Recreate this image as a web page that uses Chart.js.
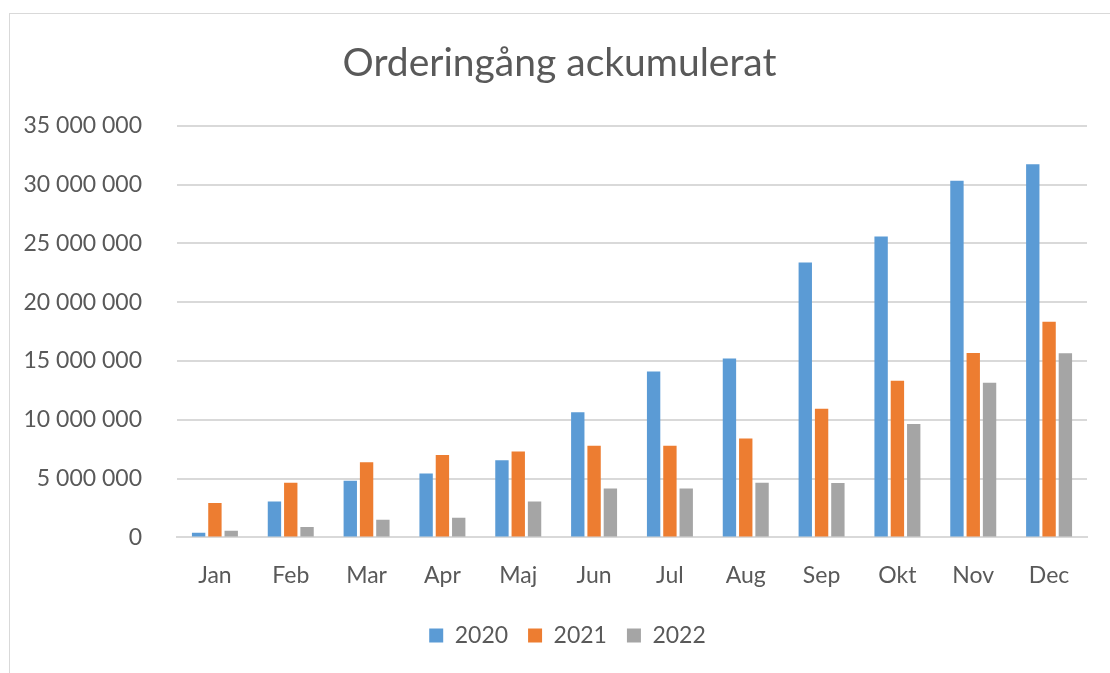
<!DOCTYPE html>
<html>
<head>
<meta charset="utf-8">
<script src="https://cdn.jsdelivr.net/npm/chart.js@4"></script>
<style>
  body { margin: 0; background: #fff; }
  #wrap { width: 1110px; height: 673px; }
</style>
</head>
<body>
<div id="wrap"><canvas id="myBarChart" width="1110" height="673"></canvas></div>
<script>
var months = ["Jan", "Feb", "Mar", "Apr", "Maj", "Jun", "Jul", "Aug", "Sep", "Okt", "Nov", "Dec"];
var years = ["2020", "2021", "2022"];
var values2020 = [400000, 3060000, 4820000, 5440000, 6550000, 10640000, 14100000, 15220000, 23380000, 25590000, 30330000, 31740000];
var values2021 = [2920000, 4650000, 6380000, 7000000, 7310000, 7800000, 7800000, 8420000, 10930000, 13310000, 15690000, 18330000];
var values2022 = [570000, 880000, 1500000, 1670000, 3060000, 4150000, 4150000, 4640000, 4630000, 9650000, 13140000, 15660000];
var yTicks = [0, 5000000, 10000000, 15000000, 20000000, 25000000, 30000000, 35000000];

var textColor = "#595959";
var fontFamily = "Lato, 'Open Sans', sans-serif";

// frame around the chart, like the Excel chart area border
var framePlugin = {
  id: "frame",
  beforeDraw: function (chart) {
    var c = chart.ctx;
    c.save();
    c.strokeStyle = "#d9d9d9";
    c.lineWidth = 1;
    c.strokeRect(9.5, 13.5, 1200, 700);
    c.restore();
  },
};

// Excel centres title and legend over the plot area rather than the whole canvas
var centerPlugin = {
  id: "centerBlocks",
  afterLayout: function (chart) {
    if (chart.titleBlock) {
      chart.titleBlock.left += 6;
      chart.titleBlock.right += 6;
    }
    if (chart.legend) {
      chart.legend.left += 14;
      chart.legend.right += 14;
    }
  },
};

var ctx = document.getElementById("myBarChart").getContext("2d");
var myBarChart = new Chart(ctx, {
  type: "bar",
  data: {
    labels: months,
    datasets: [
      { label: years[0], data: values2020, backgroundColor: "#5B9BD5" },
      { label: years[1], data: values2021, backgroundColor: "#ED7D31" },
      { label: years[2], data: values2022, backgroundColor: "#A5A5A5" },
    ],
  },
  options: {
    responsive: false,
    animation: false,
    layout: { padding: { left: 20, right: 23, top: 20, bottom: 16 } },
    datasets: {
      bar: { categoryPercentage: 0.645, barPercentage: 0.82 },
    },
    scales: {
      x: {
        grid: { display: false, drawTicks: false },
        border: { color: "#d9d9d9", width: 2 },
        ticks: { color: textColor, font: { family: fontFamily, size: 23 }, padding: 24 },
        afterFit: function (scale) {
          scale.height = scale.height - 9;
        },
      },
      y: {
        min: 0,
        max: 35000000,
        afterBuildTicks: function (scale) {
          scale.ticks = yTicks.map(function (v) { return { value: v }; });
        },
        afterFit: function (scale) {
          scale.width = 157;
        },
        grid: { color: "#d9d9d9", lineWidth: 2, drawTicks: false },
        border: { display: false },
        ticks: {
          color: textColor,
          font: { family: fontFamily, size: 23 },
          padding: 35,
          callback: function (v) {
            return String(v).replace(/\B(?=(\d{3})+(?!\d))/g, " ");
          },
        },
      },
    },
    plugins: {
      title: {
        display: true,
        text: "Orderingång ackumulerat",
        color: textColor,
        font: { family: fontFamily, size: 39, weight: "normal" },
        padding: { top: 20, bottom: 39 },
      },
      legend: {
        position: "bottom",
        labels: {
          color: textColor,
          font: { family: fontFamily, size: 23 },
          boxWidth: 14,
          boxHeight: 14,
          padding: 20,
        },
      },
      tooltip: { enabled: false },
    },
  },
  plugins: [framePlugin, centerPlugin],
});
</script>
</body>
</html>
